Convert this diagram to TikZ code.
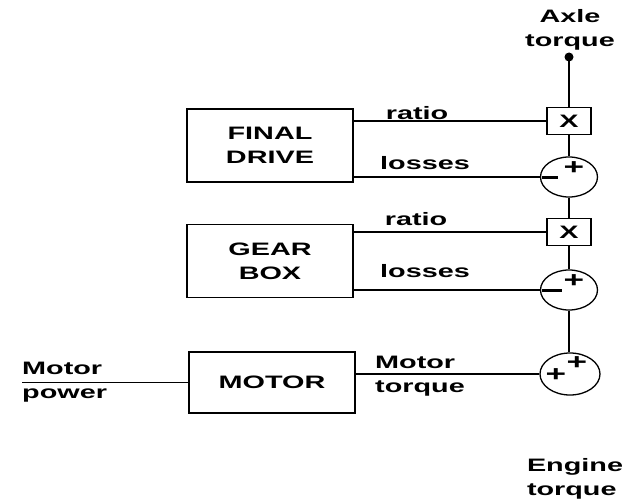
\documentclass[tikz,border=0pt]{standalone}
\usepackage{fontspec}
\setmainfont{Liberation Sans}[FakeStretch=1.6]
\usetikzlibrary{shapes.geometric}
\begin{document}
\begin{tikzpicture}[x=1pt,y=-1pt,
  every node/.style={font=\fontsize{18}{24}\selectfont\bfseries},
  blk/.style={draw,line width=1.3pt,minimum width=166pt,align=center,inner sep=0pt},
  mulbox/.style={draw,line width=1.3pt,minimum width=44pt,minimum height=27pt,inner sep=0pt},
  sumnode/.style={draw,ellipse,line width=1.3pt,minimum width=57pt,minimum height=40pt,inner sep=0pt},
  wire/.style={line width=1.3pt},
  minus/.style={line width=3pt},
  lbl/.style={inner sep=0pt,align=left},
  sgn/.style={inner sep=0pt,font=\fontsize{22}{22}\selectfont\bfseries}]
\useasboundingbox (0,0) rectangle (627,500);
% blocks
\node[blk,minimum height=73pt] (fd) at (270,145.5) {FINAL\\DRIVE};
\node[blk,minimum height=73pt] (gb) at (270,261) {GEAR\\BOX};
\node[blk,minimum height=61pt] (mo) at (272,382.5) {MOTOR};
% right column
\coordinate (dotc) at (569,57);
\fill (dotc) circle (4.5pt);
\node[mulbox] (x1) at (569,121) {X};
\node[sumnode] (c1) at (569,177) {};
\node[mulbox] (x2) at (569,232) {X};
\node[sumnode] (c2) at (569,290) {};
\node[sumnode,minimum width=60pt,minimum height=42pt] (c3) at (570,374) {};
% vertical chain
\draw[wire] (dotc) -- (x1.north);
\draw[wire] (x1.south) -- (c1.north);
\draw[wire] (c1.south) -- (x2.north);
\draw[wire] (x2.south) -- (c2.north);
\draw[wire] (c2.south) -- (c3.north -| c2.south);
% horizontal wires
\draw[wire] (fd.east |- x1.west) -- (x1.west);
\draw[wire] (fd.east |- c1.west) -- (c1.west);
\draw[wire] (gb.east |- x2.west) -- (x2.west);
\draw[wire] (gb.east |- c2.west) -- (c2.west);
\draw[wire] (mo.east |- c3.west) -- (c3.west);
\coordinate (mp) at (22,382.5);
\draw[wire] (mp) -- (mo.west);
% signs
\node[sgn] (p1) at (574,168) {+};
\draw[minus] ([xshift=2pt,yshift=-0.5pt]c1.west) -- ++(16,0);
\node[sgn] (p2) at (574,281) {+};
\draw[minus] ([xshift=2pt,yshift=-0.5pt]c2.west) -- ++(20,0);
\node[sgn] (p3) at (577,363) {+};
\node[sgn] (p4) at (556,375) {+};
% labels
\node[lbl,align=center] (axle) at (570,29.5) {Axle\\torque};
\node[lbl] (r1) at (417,113) {ratio};
\node[lbl] (l1) at (425,163) {losses};
\node[lbl] (r2) at (416,219) {ratio};
\node[lbl] (l2) at (425,271) {losses};
\node[lbl,anchor=west] (mt) at (375,376.5) {Motor\\torque};
\node[lbl,anchor=west] (mpw) at (22,382.5) {Motor\\power};
\node[lbl] (et) at (575,478.5) {Engine\\torque};
\end{tikzpicture}
\end{document}
